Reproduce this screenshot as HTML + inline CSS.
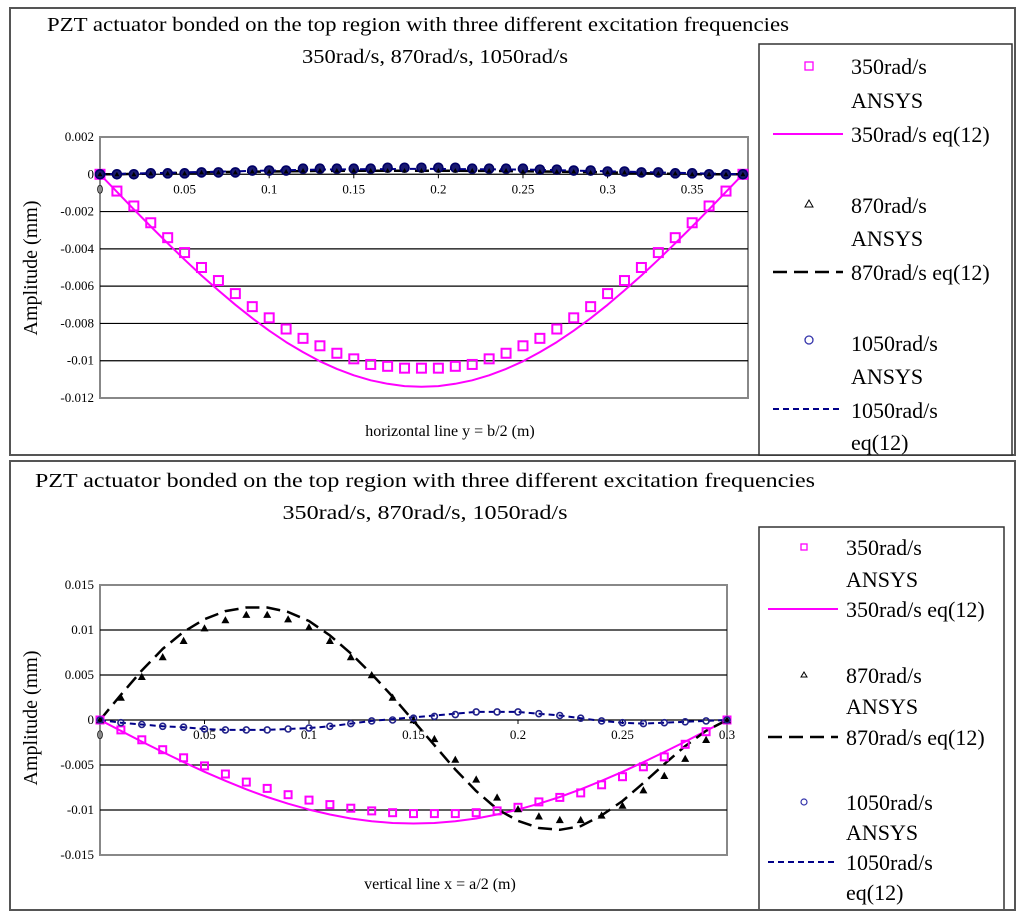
<!DOCTYPE html>
<html><head><meta charset="utf-8"><style>
body{margin:0;background:#fff;}
svg{display:block;font-family:"Liberation Serif","Noto Serif CJK SC",serif;}
.lg{font-size:22px;}
</style></head><body>
<svg id="s" width="1024" height="915" viewBox="0 0 1024 915" xmlns="http://www.w3.org/2000/svg">
<rect x="0" y="0" width="1024" height="915" fill="#fff"/>
<g>
<rect x="10" y="8" width="1005" height="447" fill="none" stroke="#555" stroke-width="2"/>
<text x="418" y="31" font-size="20" text-anchor="middle" textLength="742" lengthAdjust="spacingAndGlyphs">PZT actuator bonded on the top region with three different excitation frequencies</text>
<text x="435" y="63" font-size="20" text-anchor="middle" textLength="266" lengthAdjust="spacingAndGlyphs">350rad/s, 870rad/s, 1050rad/s</text>
<text x="450" y="436" font-size="16" text-anchor="middle">horizontal line y = b/2 (m)</text>
<text transform="translate(37,268) rotate(-90)" font-size="20" text-anchor="middle">Amplitude (mm)</text>
<g id="plot1"></g>
<g>
<rect x="759" y="44" width="253" height="411" fill="#fff" stroke="#333" stroke-width="1.5"/>
<rect x="805" y="62" width="8" height="8" fill="none" stroke="#f0f" stroke-width="1.3"/>
<text x="851" y="74" class="lg">350rad/s</text><text x="851" y="108" class="lg">ANSYS</text>
<line x1="773" y1="134" x2="843" y2="134" stroke="#f0f" stroke-width="2"/>
<text x="851" y="142" class="lg">350rad/s eq(12)</text>
<polygon points="809,200 805,207 813,207" fill="none" stroke="#000" stroke-width="1"/>
<text x="851" y="213" class="lg">870rad/s</text><text x="851" y="246" class="lg">ANSYS</text>
<line x1="773" y1="272" x2="843" y2="272" stroke="#000" stroke-width="2.5" stroke-dasharray="14,7"/>
<text x="851" y="280" class="lg">870rad/s eq(12)</text>
<circle cx="809" cy="340" r="4" fill="none" stroke="#33a" stroke-width="1.3"/>
<text x="851" y="351" class="lg">1050rad/s</text><text x="851" y="384" class="lg">ANSYS</text>
<line x1="773" y1="409" x2="843" y2="409" stroke="#008" stroke-width="2" stroke-dasharray="6,4"/>
<text x="851" y="418" class="lg">1050rad/s</text><text x="851" y="450" class="lg">eq(12)</text>
</g>
</g>
<g>
<text x="425" y="487" font-size="20" text-anchor="middle" textLength="780" lengthAdjust="spacingAndGlyphs">PZT actuator bonded on the top region with three different excitation frequencies</text>
<text x="425" y="519" font-size="20" text-anchor="middle" textLength="285" lengthAdjust="spacingAndGlyphs">350rad/s, 870rad/s, 1050rad/s</text>
<text x="440" y="889" font-size="16" text-anchor="middle">vertical line x = a/2 (m)</text>
<text transform="translate(37,718) rotate(-90)" font-size="20" text-anchor="middle">Amplitude (mm)</text>
<g id="plot2"></g>
<g>
<rect x="759" y="527" width="245" height="383" fill="#fff" stroke="#333" stroke-width="1.5"/>
<rect x="801" y="544" width="6" height="6" fill="none" stroke="#f0f" stroke-width="1.3"/>
<text x="846" y="555" class="lg">350rad/s</text><text x="846" y="587" class="lg">ANSYS</text>
<line x1="768" y1="609" x2="838" y2="609" stroke="#f0f" stroke-width="2"/>
<text x="846" y="617" class="lg">350rad/s eq(12)</text>
<polygon points="804,672 801,677 807,677" fill="none" stroke="#000" stroke-width="1"/>
<text x="846" y="683" class="lg">870rad/s</text><text x="846" y="714" class="lg">ANSYS</text>
<line x1="768" y1="737" x2="838" y2="737" stroke="#000" stroke-width="2.5" stroke-dasharray="14,7"/>
<text x="846" y="745" class="lg">870rad/s eq(12)</text>
<circle cx="804" cy="802" r="3" fill="none" stroke="#33a" stroke-width="1.2"/>
<text x="846" y="810" class="lg">1050rad/s</text><text x="846" y="840" class="lg">ANSYS</text>
<line x1="768" y1="862" x2="838" y2="862" stroke="#008" stroke-width="2" stroke-dasharray="6,4"/>
<text x="846" y="870" class="lg">1050rad/s</text><text x="846" y="900" class="lg">eq(12)</text>
</g>
<rect x="10" y="461" width="1005" height="449" fill="none" stroke="#555" stroke-width="2"/>
</g>
</svg>
<script>
const topX = [0,0.01,0.02,0.03,0.04,0.05,0.06,0.07,0.08,0.09,0.1,0.11,0.12,0.13,0.14,0.15,0.16,0.17,0.18,0.19,0.2,0.21,0.22,0.23,0.24,0.25,0.26,0.27,0.28,0.29,0.3,0.31,0.32,0.33,0.34,0.35,0.36,0.37,0.38];
const top350Ansys = [0,-0.0009,-0.0017,-0.0026,-0.0034,-0.0042,-0.005,-0.0057,-0.0064,-0.0071,-0.0077,-0.0083,-0.0088,-0.0092,-0.0096,-0.0099,-0.0102,-0.0103,-0.0104,-0.0104,-0.0104,-0.0103,-0.0102,-0.0099,-0.0096,-0.0092,-0.0088,-0.0083,-0.0077,-0.0071,-0.0064,-0.0057,-0.005,-0.0042,-0.0034,-0.0026,-0.0017,-0.0009,0];
const top350Eq = [0,-0.00094,-0.00188,-0.0028,-0.0037,-0.00458,-0.00543,-0.00623,-0.007,-0.00772,-0.00839,-0.009,-0.00954,-0.01003,-0.01044,-0.01078,-0.01105,-0.01124,-0.01136,-0.0114,-0.01136,-0.01124,-0.01105,-0.01078,-0.01044,-0.01003,-0.00954,-0.009,-0.00839,-0.00772,-0.007,-0.00623,-0.00543,-0.00458,-0.0037,-0.0028,-0.00188,-0.00094,0];
const top870Ansys = [0,0,0,0.00005,0.00005,0.00005,0.0001,0.0001,0.0001,0.00015,0.00015,0.00015,0.0002,0.0002,0.0002,0.0002,0.0002,0.0002,0.0002,0.0002,0.0002,0.0002,0.0002,0.0002,0.0002,0.00015,0.00015,0.00015,0.00015,0.0001,0.0001,0.0001,0.00005,0.00005,0.00005,0,0,0,0];
const top870Eq = [0,0,0.00002,0.00004,0.00006,0.00008,0.0001,0.00012,0.00013,0.00014,0.00015,0.00016,0.00017,0.00018,0.00018,0.00019,0.00019,0.00019,0.00019,0.00019,0.00019,0.00019,0.00018,0.00018,0.00017,0.00016,0.00015,0.00014,0.00013,0.00012,0.0001,0.00008,0.00006,0.00004,0.00002,0.00001,0,0,0];
const top1050Ansys = [0,0,0,0.00005,0.00005,0.00005,0.0001,0.0001,0.0001,0.0002,0.0002,0.0002,0.0003,0.0003,0.0003,0.0003,0.0003,0.00035,0.00035,0.00035,0.00035,0.00035,0.0003,0.0003,0.0003,0.0003,0.00025,0.00025,0.0002,0.0002,0.00015,0.00015,0.0001,0.0001,0.00005,0.00005,0,0,0];
const top1050Eq = [0,0.00002,0.00004,0.00006,0.00008,0.0001,0.00012,0.00014,0.00016,0.00018,0.0002,0.00022,0.00024,0.00025,0.00026,0.00027,0.00028,0.00028,0.00029,0.00029,0.00029,0.00028,0.00028,0.00027,0.00026,0.00025,0.00024,0.00022,0.0002,0.00018,0.00016,0.00014,0.00012,0.0001,0.00008,0.00006,0.00004,0.00002,0];
const topXTicks = [0,0.05,0.1,0.15,0.2,0.25,0.3,0.35];
const topYTicks = [0.002,0,-0.002,-0.004,-0.006,-0.008,-0.01,-0.012];
const botX = [0,0.01,0.02,0.03,0.04,0.05,0.06,0.07,0.08,0.09,0.1,0.11,0.12,0.13,0.14,0.15,0.16,0.17,0.18,0.19,0.2,0.21,0.22,0.23,0.24,0.25,0.26,0.27,0.28,0.29,0.3];
const bot350Ansys = [0,-0.0011,-0.0022,-0.0033,-0.0042,-0.0051,-0.006,-0.0069,-0.0076,-0.0083,-0.0089,-0.0094,-0.0098,-0.0101,-0.0103,-0.0104,-0.0104,-0.0104,-0.0103,-0.0101,-0.0097,-0.0091,-0.0086,-0.0081,-0.0072,-0.0063,-0.0052,-0.0041,-0.0027,-0.0013,0];
const bot350Eq = [0,-0.0012,-0.0024,-0.00355,-0.00468,-0.00575,-0.00676,-0.0077,-0.00855,-0.0093,-0.00996,-0.0105,-0.01094,-0.01125,-0.01144,-0.0115,-0.01144,-0.01125,-0.01094,-0.0105,-0.00996,-0.0093,-0.00855,-0.0077,-0.00676,-0.00575,-0.00468,-0.00355,-0.0024,-0.0012,0];
const bot870Ansys = [0,0.0025,0.0048,0.007,0.0088,0.0102,0.0111,0.0117,0.0117,0.0112,0.0103,0.0088,0.007,0.005,0.0025,0,-0.0021,-0.0044,-0.0066,-0.0086,-0.0099,-0.0107,-0.0111,-0.0111,-0.0106,-0.0095,-0.0078,-0.0062,-0.0043,-0.0022,0];
const bot870Eq = [0,0.0028,0.0055,0.0079,0.0098,0.0112,0.0121,0.0125,0.0125,0.012,0.011,0.0094,0.0074,0.0051,0.0026,-0.0001,-0.0028,-0.0055,-0.0079,-0.0099,-0.0112,-0.012,-0.0122,-0.0118,-0.0106,-0.009,-0.007,-0.0049,-0.0029,-0.0012,0];
const bot1050Ansys = [0,-0.0003,-0.0005,-0.0007,-0.0008,-0.001,-0.0011,-0.0011,-0.0011,-0.001,-0.0009,-0.0007,-0.0004,-0.0001,0,0.0002,0.0004,0.0006,0.0009,0.0009,0.0009,0.0007,0.0005,0.0002,-0.0001,-0.0003,-0.0004,-0.0003,-0.0002,-0.0001,0];
const bot1050Eq = [0,-0.0003,-0.0005,-0.0007,-0.0008,-0.001,-0.0011,-0.0011,-0.0011,-0.001,-0.0009,-0.0007,-0.0004,-0.0001,0.0001,0.0003,0.0005,0.0007,0.0009,0.0009,0.0009,0.0007,0.0005,0.0002,-0.0001,-0.0003,-0.0004,-0.0003,-0.0002,-0.0001,0];
const botXTicks = [0,0.05,0.1,0.15,0.2,0.25,0.3];
const botYTicks = [0.015,0.01,0.005,0,-0.005,-0.01,-0.015];

const NS = 'http://www.w3.org/2000/svg';
function mk(tag, attrs, parent){const e=document.createElementNS(NS,tag);for(const k in attrs)e.setAttribute(k,attrs[k]);parent.appendChild(e);return e;}

function drawChart(g, cfg){
  const {L,R,T,B,xmin,xmax,ymin,ymax} = cfg;
  const sx = v => L + (v - xmin) / (xmax - xmin) * (R - L);
  const sy = v => B - (v - ymin) / (ymax - ymin) * (B - T);
  const bg = mk('rect',{x:L,y:T,width:R-L,height:B-T,fill:'#fff',stroke:'#888','stroke-width':2},g);
  
  
  cfg.yTicks.forEach(t=>{
    if (t !== cfg.yTicks[0] && t !== cfg.yTicks[cfg.yTicks.length-1]) {
      const gl = mk('line',{x1:L,x2:R,y1:sy(t),y2:sy(t),stroke:'#000','stroke-width':1.2},g);
      
      
    }
    const lb = mk('text',{x:L-6,y:sy(t)+4,'font-size':13,'text-anchor':'end'},g);
    lb.textContent = String(t);
    
    
  });
  const z = sy(0);
  cfg.xTicks.forEach(t=>{
    mk('line',{x1:sx(t),x2:sx(t),y1:z,y2:z+4,stroke:'#000','stroke-width':1},g);
    const lb = mk('text',{x:sx(t),y:z+19,'font-size':13,'text-anchor':'middle'},g);
    lb.textContent = String(t);
    
    
  });
  const X = cfg.x;
  cfg.series.forEach(s=>{
    if (s.line) {
      const pts = X.map((x,i)=>sx(x).toFixed(1)+','+sy(s.y[i]).toFixed(1)).join(' ');
      const pl = mk('polyline',{points:pts,fill:'none',stroke:s.color,'stroke-width':s.w||2,'stroke-dasharray':s.dash||'none','stroke-linejoin':'round'},g);
      
      
    } else {
      const grp = mk('g',{},g);
      
      
      X.forEach((x,i)=>{
        const cx = sx(x), cy = sy(s.y[i]); let m;
        if (s.marker==='square') m = mk('rect',{x:cx-s.r,y:cy-s.r,width:2*s.r,height:2*s.r,fill:'none',stroke:s.color,'stroke-width':2},grp);
        else if (s.marker==='tri') m = mk('polygon',{points:`${cx},${cy-s.r} ${cx-s.r},${cy+s.r*0.8} ${cx+s.r},${cy+s.r*0.8}`,fill:s.color},grp);
        else m = mk('circle',{cx:cx,cy:cy,r:s.r,fill:s.fill||'none',stroke:s.color,'stroke-width':1.6},grp);
        
        
      });
    }
  });
}

drawChart(document.getElementById('plot1'), {
  L:100,R:748,T:137,B:398,xmin:0,xmax:0.383,ymin:-0.012,ymax:0.002,
  xTicks:topXTicks,yTicks:topYTicks,x:topX,
  series:[
    {name:'series-350-eq',line:true,y:top350Eq,color:'#f0f',w:2},
    {name:'series-350-ansys',marker:'square',y:top350Ansys,color:'#f0f',r:4.5},
    {name:'series-870-eq',line:true,y:top870Eq,color:'#000',w:2.5,dash:'14,7'},
    {name:'series-1050-eq',line:true,y:top1050Eq,color:'#008',w:2,dash:'6,4'},
    {name:'series-1050-ansys',marker:'circle',y:top1050Ansys,color:'#000066',fill:'#1a1a70',r:4.5},
    {name:'series-870-ansys',marker:'tri',y:top870Ansys,color:'#000',r:2.5}
  ]
});
drawChart(document.getElementById('plot2'), {
  L:100,R:727,T:585,B:855,xmin:0,xmax:0.3,ymin:-0.015,ymax:0.015,
  xTicks:botXTicks,yTicks:botYTicks,x:botX,
  series:[
    {name:'series-350-eq',line:true,y:bot350Eq,color:'#f0f',w:2},
    {name:'series-870-eq',line:true,y:bot870Eq,color:'#000',w:2.5,dash:'14,7'},
    {name:'series-1050-eq',line:true,y:bot1050Eq,color:'#008',w:2,dash:'6,4'},
    {name:'series-350-ansys',marker:'square',y:bot350Ansys,color:'#f0f',r:3.5},
    {name:'series-870-ansys',marker:'tri',y:bot870Ansys,color:'#000',r:4},
    {name:'series-1050-ansys',marker:'circle',y:bot1050Ansys,color:'#22228a',r:3}
  ]
});
</script>
</body></html>
